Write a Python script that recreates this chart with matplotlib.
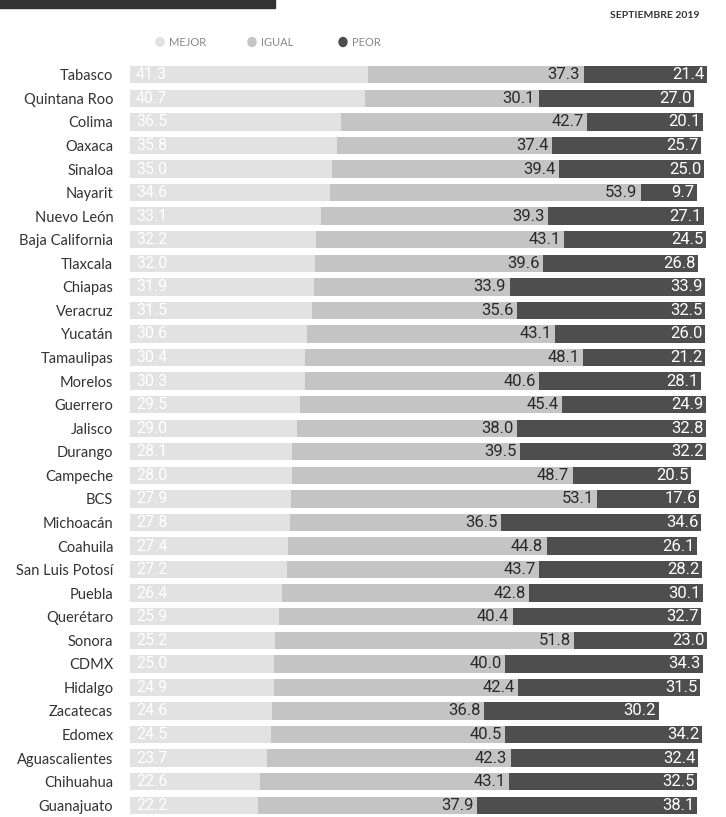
import numpy as np
import matplotlib
matplotlib.use("Agg")
import matplotlib.pyplot as plt

# datos: percepcion de la economia por estado
estados = ["Tabasco", "Quintana Roo", "Colima", "Oaxaca", "Sinaloa", "Nayarit",
           "Nuevo León", "Baja California", "Tlaxcala", "Chiapas", "Veracruz",
           "Yucatán", "Tamaulipas", "Morelos", "Guerrero", "Jalisco", "Durango",
           "Campeche", "BCS", "Michoacán", "Coahuila", "San Luis Potosí", "Puebla",
           "Querétaro", "Sonora", "CDMX", "Hidalgo", "Zacatecas", "Edomex",
           "Aguascalientes", "Chihuahua", "Guanajuato"]
mejor = [41.3, 40.7, 36.5, 35.8, 35.0, 34.6, 33.1, 32.2, 32.0, 31.9, 31.5,
         30.6, 30.4, 30.3, 29.5, 29.0, 28.1, 28.0, 27.9, 27.8, 27.4, 27.2,
         26.4, 25.9, 25.2, 25.0, 24.9, 24.6, 24.5, 23.7, 22.6, 22.2]
igual = [37.3, 30.1, 42.7, 37.4, 39.4, 53.9, 39.3, 43.1, 39.6, 33.9, 35.6,
         43.1, 48.1, 40.6, 45.4, 38.0, 39.5, 48.7, 53.1, 36.5, 44.8, 43.7,
         42.8, 40.4, 51.8, 40.0, 42.4, 36.8, 40.5, 42.3, 43.1, 37.9]
peor = [21.4, 27.0, 20.1, 25.7, 25.0, 9.7, 27.1, 24.5, 26.8, 33.9, 32.5,
        26.0, 21.2, 28.1, 24.9, 32.8, 32.2, 20.5, 17.6, 34.6, 26.1, 28.2,
        30.1, 32.7, 23.0, 34.3, 31.5, 30.2, 34.2, 32.4, 32.5, 38.1]

c_mejor = "#e2e2e2"
c_igual = "#c4c4c4"
c_peor = "#4e4e4e"

fig = plt.figure(figsize=(7.26, 8.17), dpi=100)
ax = fig.add_axes([130/726, 0.0, 577/726, (817-63)/817])

y = np.arange(len(estados))
mejor = np.array(mejor)
igual = np.array(igual)
peor = np.array(peor)
h = 0.74
ax.barh(y, mejor, height=h, color=c_mejor)
ax.barh(y, igual, left=mejor, height=h, color=c_igual)
ax.barh(y, peor, left=mejor + igual, height=h, color=c_peor)

fnum = ["Roboto", "DejaVu Sans"]
for i in range(len(estados)):
    ax.text(1.0, i, f"{mejor[i]:.1f}", color="white", fontsize=11.5,
            family=fnum, va="center", ha="left")
    ax.text(mejor[i] + igual[i] - 0.6, i, f"{igual[i]:.1f}", color="#2a2a2a",
            fontsize=12, family=fnum, va="center", ha="right")
    ax.text(mejor[i] + igual[i] + peor[i] - 0.4, i, f"{peor[i]:.1f}",
            color="white", fontsize=12, family=fnum, va="center", ha="right")

ax.set_xlim(0, 100)
ax.set_ylim(len(estados) - 0.5, -0.5)
ax.set_yticks(y)
ax.set_yticklabels(estados, fontsize=10.5, family=["Lato", "DejaVu Sans"],
                   color="#333333")
ax.tick_params(axis="y", length=0, pad=12)
ax.set_xticks([])
for s in ax.spines.values():
    s.set_visible(False)

# cabecera
fig.patches.append(plt.Rectangle((0, 1 - 8/817), 275/726, 8/817,
                                 transform=fig.transFigure, color="#333333"))
fig.text(700/726, 1 - 16/817, "SEPTIEMBRE 2019", ha="right", va="center",
         fontsize=7.5, fontweight="bold", color="#333333",
         family=["Lato", "DejaVu Sans"])

# leyenda
leg = [("MEJOR", c_mejor, 160), ("IGUAL", c_igual, 252), ("PEOR", c_peor, 343)]
for nombre, col, px in leg:
    fig.patches.append(matplotlib.patches.Circle(
        (px/726, 1 - 42/817), 4/726, transform=fig.transFigure, color=col))
    fig.text((px + 9)/726, 1 - 42/817, nombre, ha="left", va="center",
             fontsize=8, color="#888888", family=["Lato", "DejaVu Sans"])

fig.savefig("out.png", dpi=100, facecolor="white")
